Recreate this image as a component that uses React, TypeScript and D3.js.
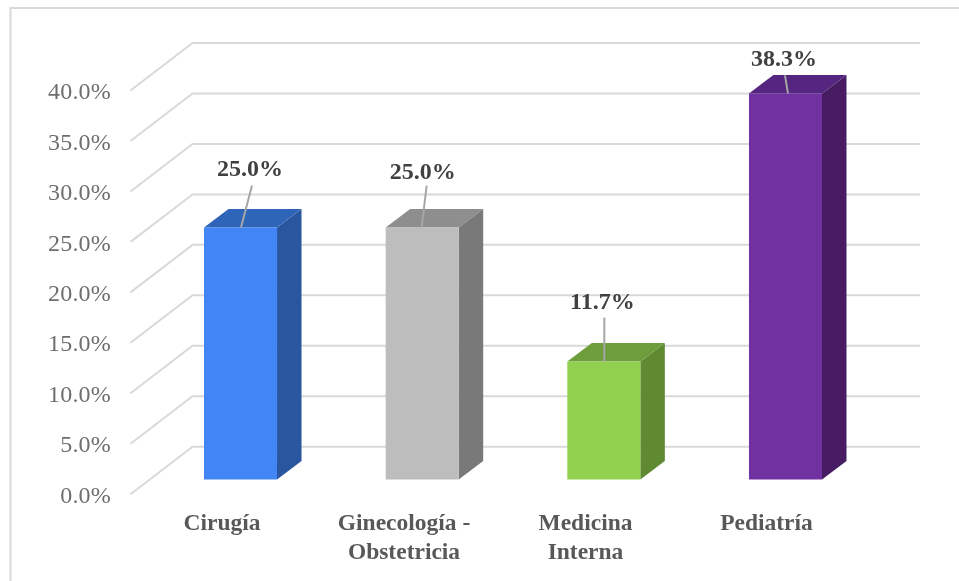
import React from "react";
import * as d3 from "d3";

const categories = [["Cirugía"], ["Ginecología -", "Obstetricia"], ["Medicina", "Interna"], ["Pediatría"]];
const values = [25.0, 25.0, 11.7, 38.3];
const valueLabels = ["25.0%", "25.0%", "11.7%", "38.3%"];
const ticks = [0, 5, 10, 15, 20, 25, 30, 35, 40];
const frontColors = ["#4285f4", "#bdbdbd", "#92d050", "#7030a0"];
const topColors = ["#2f65b8", "#8e8e8e", "#6d9e3a", "#552680"];
const sideColors = ["#2a569f", "#797979", "#5f8a33", "#461f63"];

// leader line and label offsets per bar, relative to the front top edge
const leaders = [
	{ x1: 37, y1: 0, x2: 48, y2: -42, lx: 46, ly: -59 },
	{ x1: 36, y1: 0, x2: 41, y2: -42, lx: 37, ly: -56 },
	{ x1: 37, y1: 0, x2: 37, y2: -44, lx: 35, ly: -60 },
	{ x1: 39, y1: 0, x2: 36, y2: -18, lx: 35, ly: -35 },
];

const width = 959;
const height = 581;
const font = "'Liberation Serif', 'Times New Roman', serif";

export default function App() {
	// the wall sits behind the floor, offset by the chart depth
	const depthX = 62;
	const depthY = 47.5;
	const barDepthX = 24.5;
	const barDepthY = 18.5;

	const yWall = d3.scaleLinear().domain([0, 40]).range([446.7, 43]);
	const yBar = d3.scaleLinear().domain([0, 40]).range([479.5, 76.3]);

	const x = d3
		.scaleBand<number>()
		.domain(d3.range(4))
		.range([149.5, 876.5])
		.paddingInner(0.598)
		.paddingOuter(0.3);
	// category labels centre on the front face
	const categoryX = [222, 404, 585.5, 766.5];

	const wallLeft = 192.5;
	const wallRight = 920;

	const grid = d3.line();

	return (
		<svg
			width={width}
			height={height}
			style={{ position: "absolute", left: 0, top: 0, background: "#fff" }}
		>
			<defs>
				<filter id="soft" x="-5%" y="-5%" width="110%" height="110%">
					<feGaussianBlur stdDeviation="0.45" />
				</filter>
			</defs>
			<g filter="url(#soft)">
				{/* chart frame */}
				<path d={`M959,8H10.5V581`} fill="none" stroke="#d9d9d9" strokeWidth={2} />

				{/* gridlines */}
				<g fill="none" stroke="#d9d9d9" strokeWidth={2}>
					{ticks.map((t) => (
						<path
							key={t}
							d={
								grid([
									[wallLeft - depthX, yWall(t) + depthY],
									[wallLeft, yWall(t)],
									[wallRight, yWall(t)],
								]) || undefined
							}
						/>
					))}
				</g>

				{/* y axis labels */}
				<g fontFamily={font} fontSize={24} fill="#6e6e6e" textAnchor="end">
					{ticks.map((t) => (
						<text key={t} x={111} y={yWall(t) + depthY + 1} dy="0.32em" letterSpacing={0.2}>
							{t.toFixed(1)}%
						</text>
					))}
				</g>

				{/* bars */}
				{values.map((v, i) => {
					const x0 = x(i) as number;
					const x1 = x0 + x.bandwidth();
					const yTop = yBar(v);
					const yBase = yBar(0);
					return (
						<g key={i}>
							<path
								d={`M${x1},${yTop}L${x1 + barDepthX},${yTop - barDepthY}V${yBase - barDepthY}L${x1},${yBase}Z`}
								fill={sideColors[i]}
							/>
							<path
								d={`M${x0},${yTop}L${x0 + barDepthX},${yTop - barDepthY}H${x1 + barDepthX}L${x1},${yTop}Z`}
								fill={topColors[i]}
							/>
							<rect x={x0} y={yTop} width={x.bandwidth()} height={yBase - yTop} fill={frontColors[i]} />
							<line
								x1={x0 + leaders[i].x1}
								y1={yTop + leaders[i].y1}
								x2={x0 + leaders[i].x2}
								y2={yTop + leaders[i].y2}
								stroke="#a6a6a6"
								strokeWidth={2}
							/>
							<text
								x={x0 + leaders[i].lx}
								y={yTop + leaders[i].ly}
								dy="0.32em"
								textAnchor="middle"
								fontFamily={font}
								fontSize={24}
								fontWeight="bold"
								fill="#404040"
							>
								{valueLabels[i]}
							</text>
						</g>
					);
				})}

				{/* category labels */}
				<g fontFamily={font} fontSize={23.5} fontWeight="bold" fill="#595959" textAnchor="middle">
					{categories.map((lines, i) => (
						<text key={i} x={categoryX[i]} y={530}>
							{lines.map((l, j) => (
								<tspan key={j} x={categoryX[i]} dy={j === 0 ? 0 : 29}>
									{l}
								</tspan>
							))}
						</text>
					))}
				</g>
			</g>
		</svg>
	);
}
